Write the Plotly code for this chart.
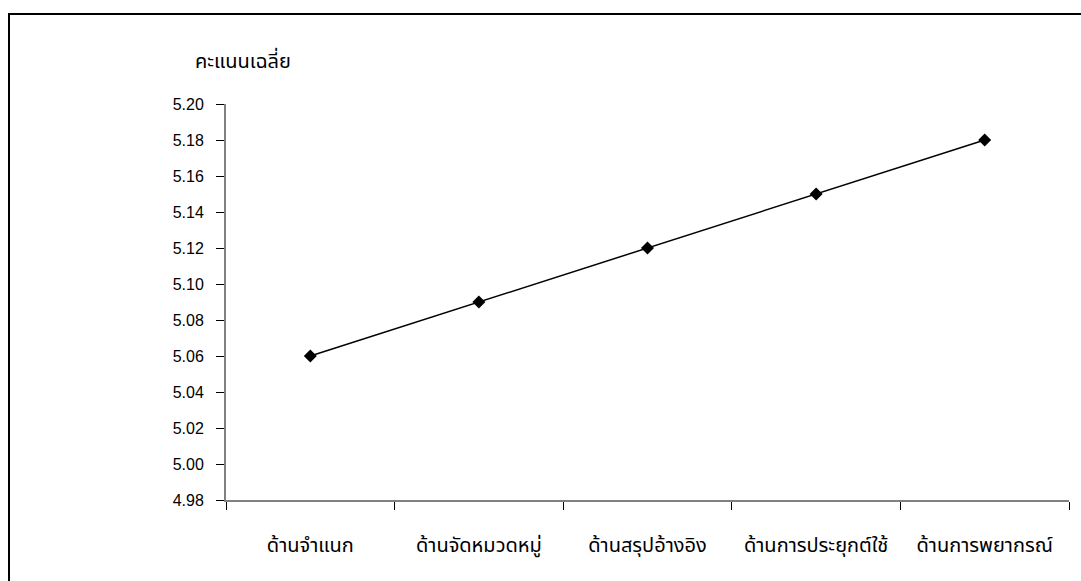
import plotly.graph_objects as go

# Mean score per thinking aspect
categories = ["ด้านจำแนก", "ด้านจัดหมวดหมู่", "ด้านสรุปอ้างอิง", "ด้านการประยุกต์ใช้", "ด้านการพยากรณ์"]
mean_scores = [5.06, 5.09, 5.12, 5.15, 5.18]
y_ticks = [4.98, 5.00, 5.02, 5.04, 5.06, 5.08, 5.10, 5.12, 5.14, 5.16, 5.18, 5.20]
y_title = "คะแนนเฉลี่ย"

W, H = 1081, 581
ML, MR, MT, MB = 226, 12, 104, 81

fig = go.Figure(
    go.Scatter(
        x=categories,
        y=mean_scores,
        mode="lines+markers",
        line=dict(color="black", width=1.5),
        marker=dict(symbol="diamond", size=10, color="black"),
        showlegend=False,
    )
)

fig.update_layout(
    width=W,
    height=H,
    margin=dict(l=ML, r=MR, t=MT, b=MB, pad=0),
    paper_bgcolor="white",
    plot_bgcolor="white",
    font=dict(family="Arial, Noto Sans Thai, Tahoma, sans-serif", size=16, color="black"),
)

fig.update_xaxes(
    type="category",
    range=[-0.5, len(categories) - 0.5],
    tickson="boundaries",
    ticks="outside",
    ticklen=8,
    tickcolor="black",
    tickwidth=1,
    showline=True,
    linecolor="#808080",
    linewidth=2,
    showgrid=False,
    zeroline=False,
    ticklabelstandoff=26,
    tickfont=dict(size=20),
)

fig.update_yaxes(
    range=[4.98, 5.20],
    tickvals=y_ticks,
    ticktext=[f"{v:.2f}" for v in y_ticks],
    ticks="outside",
    ticklen=8,
    tickcolor="black",
    tickwidth=1,
    showline=True,
    linecolor="#808080",
    linewidth=2,
    showgrid=False,
    zeroline=False,
    ticklabelstandoff=9,
    tickfont=dict(size=16),
)

# y-axis caption above the axis
fig.add_annotation(
    text=y_title,
    xref="paper", yref="paper",
    x=(193 - ML) / (W - ML - MR), y=1 + (MT - 60) / (H - MT - MB),
    xanchor="left", yanchor="middle",
    showarrow=False,
    font=dict(size=20),
)

# outer chart frame
fig.add_shape(
    type="rect",
    xref="paper", yref="paper",
    x0=(9 - ML) / (W - ML - MR), x1=(W + 20 - ML) / (W - ML - MR),
    y0=-(MB + 20) / (H - MT - MB), y1=1 + (MT - 14) / (H - MT - MB),
    line=dict(color="black", width=2),
    fillcolor="rgba(0,0,0,0)",
    layer="below",
)

fig.write_html("out.html")
